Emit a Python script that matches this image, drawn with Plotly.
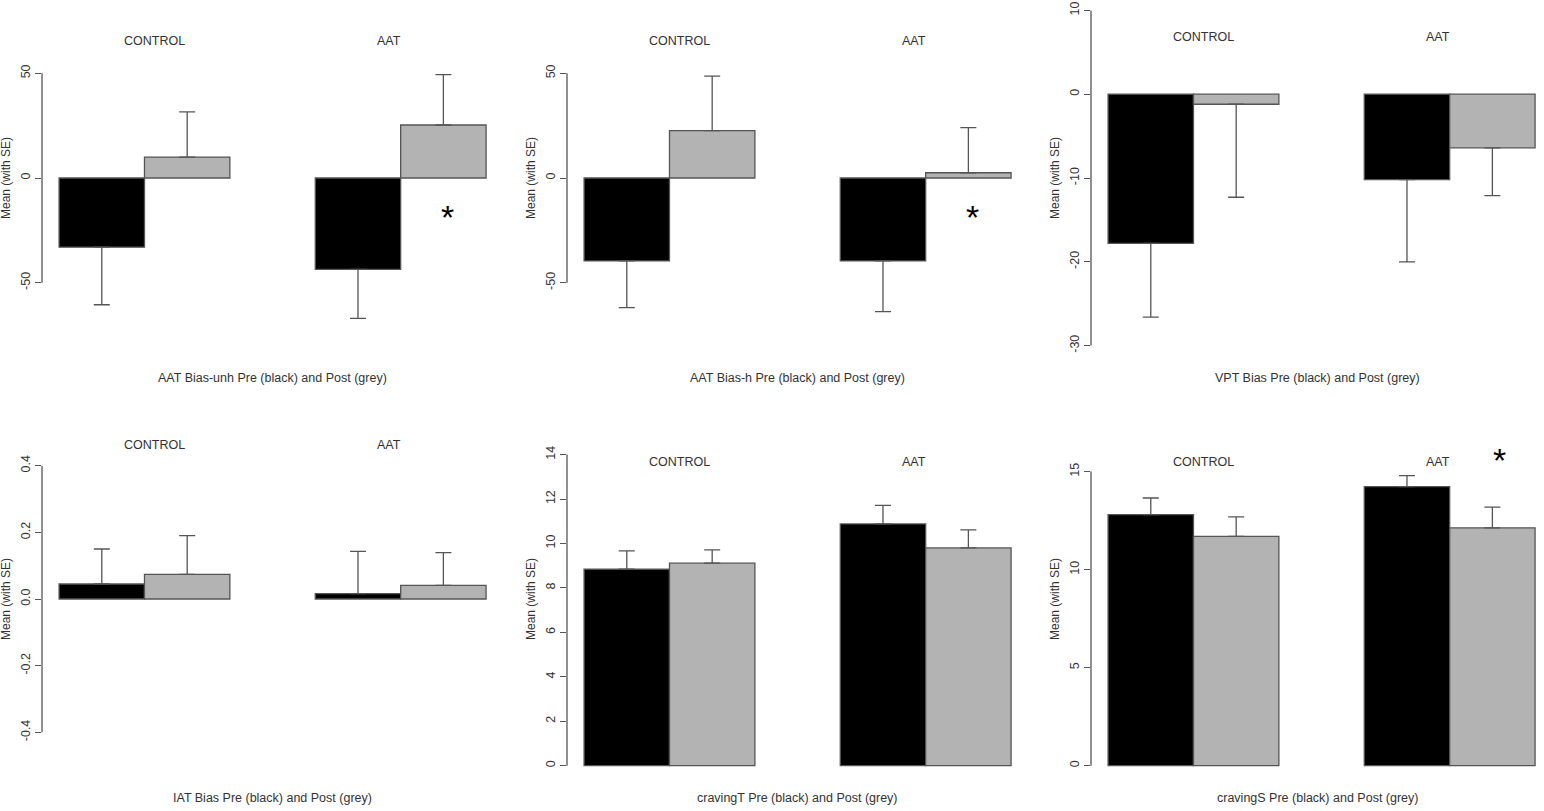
import plotly.graph_objects as go

W, H = 1544, 811

# ---- data ----
groups = ["CONTROL", "AAT"]
labels = ["AAT Bias-unh", "AAT Bias-h", "VPT Bias", "IAT Bias", "cravingT", "cravingS"]

# AAT Bias-unh
unh_pre = [-33.0, -43.6]
unh_pre_se = [27.5, 23.4]
unh_post = [10.0, 25.3]
unh_post_se = [21.6, 24.0]

# AAT Bias-h
h_pre = [-39.6, -39.6]
h_pre_se = [22.3, 24.2]
h_post = [22.6, 2.5]
h_post_se = [26.0, 21.5]

# VPT Bias
vpt_pre = [-17.8, -10.2]
vpt_pre_se = [8.8, 9.8]
vpt_post = [-1.2, -6.4]
vpt_post_se = [11.1, 5.7]

# IAT Bias
iat_pre = [0.045, 0.016]
iat_pre_se = [0.105, 0.127]
iat_post = [0.074, 0.041]
iat_post_se = [0.116, 0.098]

# cravingT
ct_pre = [8.84, 10.88]
ct_pre_se = [0.83, 0.83]
ct_post = [9.11, 9.80]
ct_post_se = [0.60, 0.81]

# cravingS
cs_pre = [12.80, 14.23]
cs_pre_se = [0.85, 0.56]
cs_post = [11.69, 12.13]
cs_post_se = [1.00, 1.06]

ylims = [(-80, 80), (-80, 80), (-30, 10), (-0.5, 0.5), (0, 15), (0, 17)]
yticks = [
    [-50, 0, 50],
    [-50, 0, 50],
    [-30, -20, -10, 0, 10],
    [-0.4, -0.2, 0.0, 0.2, 0.4],
    [0, 2, 4, 6, 8, 10, 12, 14],
    [0, 5, 10, 15],
]
ytick_text = [
    ["-50", "0", "50"],
    ["-50", "0", "50"],
    ["-30", "-20", "-10", "0", "10"],
    ["-0.4", "-0.2", "0.0", "0.2", "0.4"],
    ["0", "2", "4", "6", "8", "10", "12", "14"],
    ["0", "5", "10", "15"],
]
group_label_y = [65.4, 65.4, 6.84, 0.461, 13.68, 15.5]
# significance stars: panel index, x, y
stars = [(0, 5.55, -15), (1, 5.55, -15), (5, 5.58, 16)]

panels = [
    (unh_pre, unh_pre_se, unh_post, unh_post_se),
    (h_pre, h_pre_se, h_post, h_post_se),
    (vpt_pre, vpt_pre_se, vpt_post, vpt_post_se),
    (iat_pre, iat_pre_se, iat_post, iat_post_se),
    (ct_pre, ct_pre_se, ct_post, ct_post_se),
    (cs_pre, cs_pre_se, cs_post, cs_post_se),
]

pre_x = [1.5, 4.5]
post_x = [2.5, 5.5]

# ---- layout geometry (pixels of the R plot regions) ----
col_left = [42, 567, 1091]
px_per_unit_x = 85.4
row_top = [-3, 419]
row_bot = [359, 779]
xlab_y = [378, 797.7]

FONT = "Liberation Sans, Arial, sans-serif"
TXT = "#333333"
LINE = "#555555"


def x_geom(left):
    vlo, vhi = 0.8, 6.2
    right = left + (vhi - vlo) * px_per_unit_x
    if right > W:
        vhi -= (right - W) / px_per_unit_x
        right = W
    return [left / W, right / W], [vlo, vhi], (left + right) / 2


def y_geom(ylim, top, bot):
    lo, hi = ylim
    pad = 0.04 * (hi - lo)
    vlo, vhi = lo - pad, hi + pad
    ppu = (bot - top) / (vhi - vlo)
    if top < 0:
        vhi -= -top / ppu
        top = 0
    return [1 - bot / H, 1 - top / H], [vlo, vhi]


def one_sided(vals, se):
    plus = [s if v >= 0 else 0 for v, s in zip(vals, se)]
    minus = [s if v < 0 else 0 for v, s in zip(vals, se)]
    return plus, minus


fig = go.Figure()
annotations = []
shapes = []

for i, (pre, pre_se, post, post_se) in enumerate(panels):
    r, c = divmod(i, 3)
    n = i + 1
    xs = "" if n == 1 else str(n)
    xdom, xrng, xcen = x_geom(col_left[c])
    ydom, yrng = y_geom(ylims[i], row_top[r], row_bot[r])

    for xv, vals, se, col in [(pre_x, pre, pre_se, "#000000"), (post_x, post, post_se, "#b3b3b3")]:
        plus, minus = one_sided(vals, se)
        fig.add_trace(go.Bar(
            x=xv, y=vals, width=1,
            marker=dict(color=col, line=dict(color=LINE, width=1.3)),
            error_y=dict(type="data", symmetric=False, array=plus, arrayminus=minus,
                         color=LINE, thickness=1.3, width=8),
            xaxis="x" + xs, yaxis="y" + xs, showlegend=False, hoverinfo="y",
        ))

    fig.layout["xaxis" + xs] = dict(domain=xdom, range=xrng, visible=False,
                                    fixedrange=True, anchor="y" + xs)
    fig.layout["yaxis" + xs] = dict(
        domain=ydom, range=yrng, anchor="x" + xs,
        tickvals=yticks[i], ticktext=ytick_text[i], tickangle=-90,
        ticks="outside", ticklen=6, tickwidth=1.3, tickcolor=LINE,
        tickfont=dict(family=FONT, size=12.5, color=TXT), ticklabeloverflow="allow",
        showgrid=False, zeroline=False, showline=False,
    )

    # R-style axis line spanning first to last tick only
    shapes.append(dict(type="line", xref="x" + xs + " domain", yref="y" + xs,
                       x0=0, x1=0, y0=yticks[i][0], y1=yticks[i][-1],
                       line=dict(color=LINE, width=1.3)))

    for gx, g in zip([2.12, 4.86], groups):
        annotations.append(dict(text=g, x=gx, y=group_label_y[i], xref="x" + xs, yref="y" + xs,
                                showarrow=False, font=dict(family=FONT, size=12.5, color=TXT)))

    ycen_px = (row_top[r] + row_bot[r]) / 2
    annotations.append(dict(text=labels[i] + " Pre (black) and Post (grey)",
                            x=xcen / W, y=1 - xlab_y[r] / H, xref="paper", yref="paper",
                            xanchor="center", yanchor="middle",
                            showarrow=False, font=dict(family=FONT, size=12.5, color=TXT)))
    annotations.append(dict(text="Mean (with SE)", textangle=-90,
                            x=(col_left[c] - 36) / W, y=1 - ycen_px / H, xref="paper", yref="paper",
                            xanchor="center", yanchor="middle",
                            showarrow=False, font=dict(family=FONT, size=12, color=TXT)))

for p, sx, sy in stars:
    xs = "" if p == 0 else str(p + 1)
    annotations.append(dict(text="*", x=sx, y=sy, xref="x" + xs, yref="y" + xs, yshift=-8,
                            showarrow=False, font=dict(family=FONT, size=34, color="#000000")))

fig.update_layout(
    width=W, height=H, margin=dict(l=0, r=0, t=0, b=0),
    paper_bgcolor="white", plot_bgcolor="white",
    barmode="overlay", annotations=annotations, shapes=shapes,
)

# drop the page's default body margin so the figure fills the window
fig.write_html("out.html", config={"displayModeBar": False},
               post_script="document.body.style.margin = '0';")
